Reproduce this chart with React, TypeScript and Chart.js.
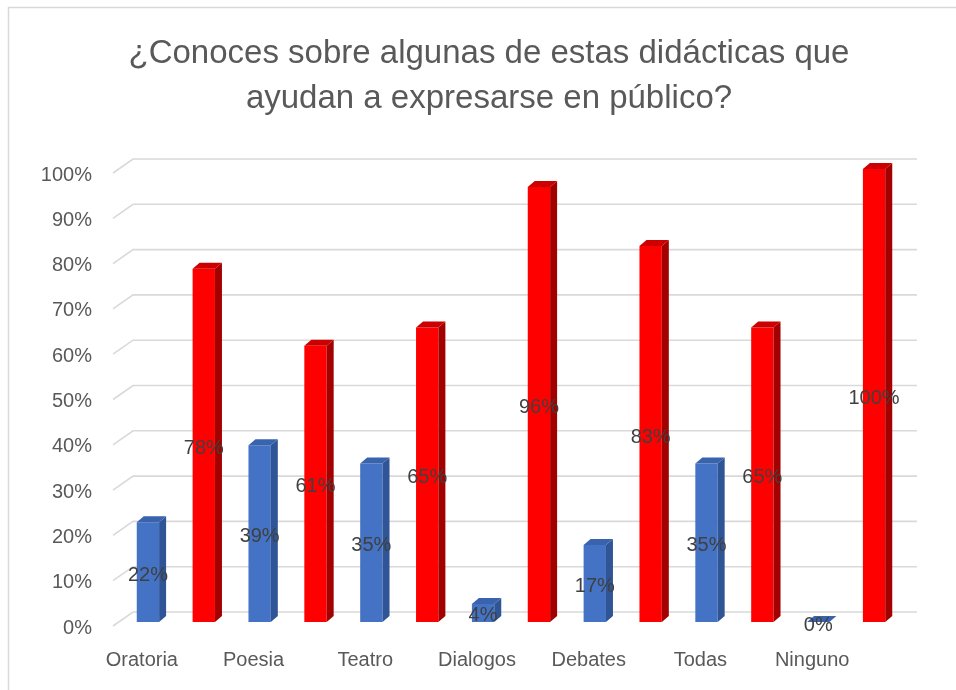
import React, { useEffect, useRef } from "react";
import { Chart, registerables } from "chart.js";

Chart.register(...registerables);

const TITLE_LINES = [
  "¿Conoces sobre algunas de estas didácticas que",
  "ayudan a expresarse en público?",
];
const CATEGORIES = ["Oratoria", "Poesia", "Teatro", "Dialogos", "Debates", "Todas", "Ninguno"];
const SERIES_BLUE = [22, 39, 35, 4, 17, 35, 0];
const SERIES_RED = [78, 61, 65, 96, 83, 65, 100];
const Y_MIN = 0;
const Y_MAX = 100;
const Y_STEP = 10;

const FONT = "'Liberation Sans', Arial, sans-serif";
const TEXT_COLOR = "#595959";
const LABEL_COLOR = "#404040";
const GRID_COLOR = "#D9D9D9";

const FACE_COLORS = [
  { front: "#4472C4", side: "#2F5597", top: "#3A63AE" },
  { front: "#FF0000", side: "#A30000", top: "#CC0000" },
];
const DX = 7;
const DY = 6;

const backgroundPlugin = {
  id: "bgFrame",
  beforeDraw(chart: any) {
    const ctx = chart.ctx;
    ctx.save();
    ctx.fillStyle = "#FFFFFF";
    ctx.fillRect(0, 0, chart.width, chart.height);
    ctx.strokeStyle = GRID_COLOR;
    ctx.lineWidth = 1.5;
    ctx.beginPath();
    ctx.moveTo(8.5, chart.height);
    ctx.lineTo(8.5, 7.5);
    ctx.lineTo(chart.width, 7.5);
    ctx.stroke();
    // title
    ctx.fillStyle = TEXT_COLOR;
    ctx.font = `33px ${FONT}`;
    ctx.textAlign = "center";
    ctx.textBaseline = "middle";
    ctx.fillText(TITLE_LINES[0], 489, 54);
    ctx.fillText(TITLE_LINES[1], 489, 99);
    ctx.restore();
  },
};

const gridPlugin = {
  id: "grid3d",
  beforeDatasetsDraw(chart: any) {
    const ctx = chart.ctx;
    const y = chart.scales.y;
    const area = chart.chartArea;
    ctx.save();
    ctx.strokeStyle = GRID_COLOR;
    ctx.lineWidth = 1.6;
    for (let v = Y_MIN; v <= Y_MAX; v += Y_STEP) {
      const py = y.getPixelForValue(v);
      ctx.beginPath();
      ctx.moveTo(area.left - 7, py + 4);
      ctx.lineTo(area.left + 13, py - 10);
      ctx.lineTo(area.right + 15, py - 10);
      ctx.stroke();
    }
    ctx.restore();
  },
};

const barsPlugin = {
  id: "bars3d",
  afterDatasetsDraw(chart: any) {
    const ctx = chart.ctx;
    ctx.save();
    chart.data.datasets.forEach((ds: any, di: number) => {
      const meta = chart.getDatasetMeta(di);
      const col = FACE_COLORS[di];
      meta.data.forEach((bar: any) => {
        const { x, y, base, width } = bar.getProps(["x", "y", "base", "width"], true);
        const l = x - width / 2;
        const r = x + width / 2;
        const top = Math.min(y, base);
        const bottom = Math.max(y, base);
        // side
        ctx.fillStyle = col.side;
        ctx.beginPath();
        ctx.moveTo(r, top);
        ctx.lineTo(r + DX, top - DY);
        ctx.lineTo(r + DX, bottom - DY);
        ctx.lineTo(r, bottom);
        ctx.closePath();
        ctx.fill();
        // top
        ctx.fillStyle = col.top;
        ctx.beginPath();
        ctx.moveTo(l, top);
        ctx.lineTo(l + DX, top - DY);
        ctx.lineTo(r + DX, top - DY);
        ctx.lineTo(r, top);
        ctx.closePath();
        ctx.fill();
      });
    });
    // labels
    ctx.fillStyle = LABEL_COLOR;
    ctx.font = `20px ${FONT}`;
    ctx.textAlign = "center";
    ctx.textBaseline = "middle";
    chart.data.datasets.forEach((ds: any, di: number) => {
      const meta = chart.getDatasetMeta(di);
      meta.data.forEach((bar: any, i: number) => {
        const { x, y, base } = bar.getProps(["x", "y", "base"], true);
        ctx.fillText(`${ds.data[i]}%`, x, (y + base) / 2 + 3);
      });
    });
    ctx.restore();
  },
};

export default function App() {
  const ref = useRef<HTMLCanvasElement | null>(null);
  useEffect(() => {
    document.body.style.margin = "0";
    const canvas = ref.current;
    if (!canvas) return;
    const chart = new Chart(canvas, {
      type: "bar",
      data: {
        labels: CATEGORIES,
        datasets: [
          { label: "Serie 1", data: SERIES_BLUE, backgroundColor: FACE_COLORS[0].front, borderWidth: 0 },
          { label: "Serie 2", data: SERIES_RED, backgroundColor: FACE_COLORS[1].front, borderWidth: 0 },
        ],
      },
      options: {
        responsive: false,
        animation: false,
        devicePixelRatio: 1,
        layout: { padding: { left: 0, right: 54, top: 169, bottom: 0 } },
        datasets: { bar: { categoryPercentage: 1, barPercentage: 0.4 } } as any,
        plugins: {
          legend: { display: false },
          title: { display: false },
          tooltip: { enabled: false },
        },
        scales: {
          x: {
            grid: { display: false, drawTicks: false },
            border: { display: false },
            ticks: {
              labelOffset: -34,
              padding: 26,
              color: TEXT_COLOR,
              font: { family: FONT, size: 20 },
              maxRotation: 0,
              autoSkip: false,
            },
            afterFit: (s: any) => {
              s.height = 68;
            },
          },
          y: {
            min: Y_MIN,
            max: Y_MAX,
            grid: { display: false, drawTicks: false },
            border: { display: false },
            ticks: {
              stepSize: Y_STEP,
              labelOffset: 6,
              padding: 28,
              color: TEXT_COLOR,
              font: { family: FONT, size: 20 },
              callback: (v: any) => `${v}%`,
            },
            afterFit: (s: any) => {
              s.width = 120;
            },
          },
        },
      },
      plugins: [backgroundPlugin, gridPlugin, barsPlugin],
    });
    return () => chart.destroy();
  }, []);
  return <canvas ref={ref} width={956} height={690} style={{ display: "block" }} />;
}
